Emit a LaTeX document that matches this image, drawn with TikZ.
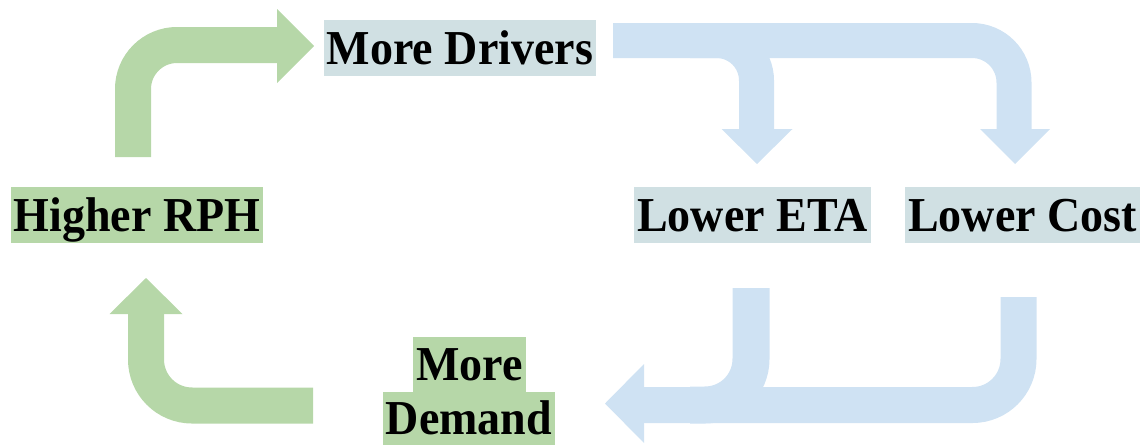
\documentclass[tikz,border=0pt]{standalone}
\usepackage{graphicx}
\usepackage{fontspec}
\setmainfont{Liberation Serif}
\definecolor{grn}{HTML}{B6D7A8}
\definecolor{blu}{HTML}{CFE2F3}
\definecolor{cyb}{HTML}{D0E0E3}
\newcommand\tallword[1]{\scalebox{1}[1.06]{#1}}
\begin{document}
\begin{tikzpicture}[x=1pt,y=-1pt,
  lbl/.style={font=\fontsize{46}{50}\selectfont\bfseries, inner xsep=3pt, inner ysep=0pt,
    text height=44pt, text depth=12pt},
  garrow/.style={draw=grn, line width=36pt, line cap=butt, line join=miter},
  barrow/.style={draw=blu, line width=35pt, line cap=butt, line join=miter},
  ghead/.style={fill=grn},
  bhead/.style={fill=blu}]
\useasboundingbox (0,0) rectangle (1146,445);

% nodes
\node[lbl, fill=grn] (rph) at (137,215) {\tallword{Higher RPH}};
\node[lbl, fill=cyb] (drv) at (460,48) {\tallword{More Drivers}};
\node[lbl, fill=cyb] (eta) at (752.5,215) {\tallword{Lower ETA}};
\node[lbl, fill=cyb] (cost) at (1022.5,215) {\tallword{Lower Cost}};
\node[lbl, fill=grn, text height=42pt, text depth=11pt] (dem2) at (469,418.5) {\tallword{Demand}};
\node[lbl, fill=grn, text height=43pt, text depth=12pt] (dem1) at (469.5,364.5) {\tallword{More}};

% green arrow: Higher RPH -> More Drivers
\coordinate (g1s) at (133,157);
\coordinate (g1e) at (278,45);
\draw[garrow, rounded corners=44pt] (g1s) |- (g1e);
\fill[ghead] (277,9) -- (314,46) -- (277,83) -- cycle;

% blue arrows: More Drivers -> Lower ETA / Lower Cost
\coordinate (b1s) at (613,40.5);
\coordinate (b1e) at (1014,130);
\draw[barrow, rounded corners=42pt] (b1s) -| (b1e);
\coordinate (b2s) at (690,40.5);
\coordinate (b2e) at (756.5,130);
\draw[barrow, rounded corners=40pt] (b2s) -| (b2e);
\fill[bhead] (980,129) -- (1015,164) -- (1050,129) -- cycle;
\fill[bhead] (721.5,129) -- (757,164) -- (792.5,129) -- cycle;

% blue arrows: Lower ETA / Lower Cost -> More Demand
\coordinate (b3s) at (1018.5,297);
\coordinate (b3e) at (643,405);
\draw[barrow, line width=36pt, rounded corners=46pt] (b3s) |- (b3e);
\coordinate (b4s) at (751,288);
\coordinate (b4e) at (690,405);
\draw[barrow, line width=37pt, rounded corners=46pt] (b4s) |- (b4e);
\fill[bhead] (644,364) -- (605,403.5) -- (644,443) -- cycle;

% green arrow: More Demand -> Higher RPH
\coordinate (g2s) at (313,405.5);
\coordinate (g2e) at (146,313);
\draw[garrow, rounded corners=46pt] (g2s) -| (g2e);
\fill[ghead] (109.5,314) -- (146,278) -- (182.5,314) -- cycle;
\end{tikzpicture}
\end{document}
